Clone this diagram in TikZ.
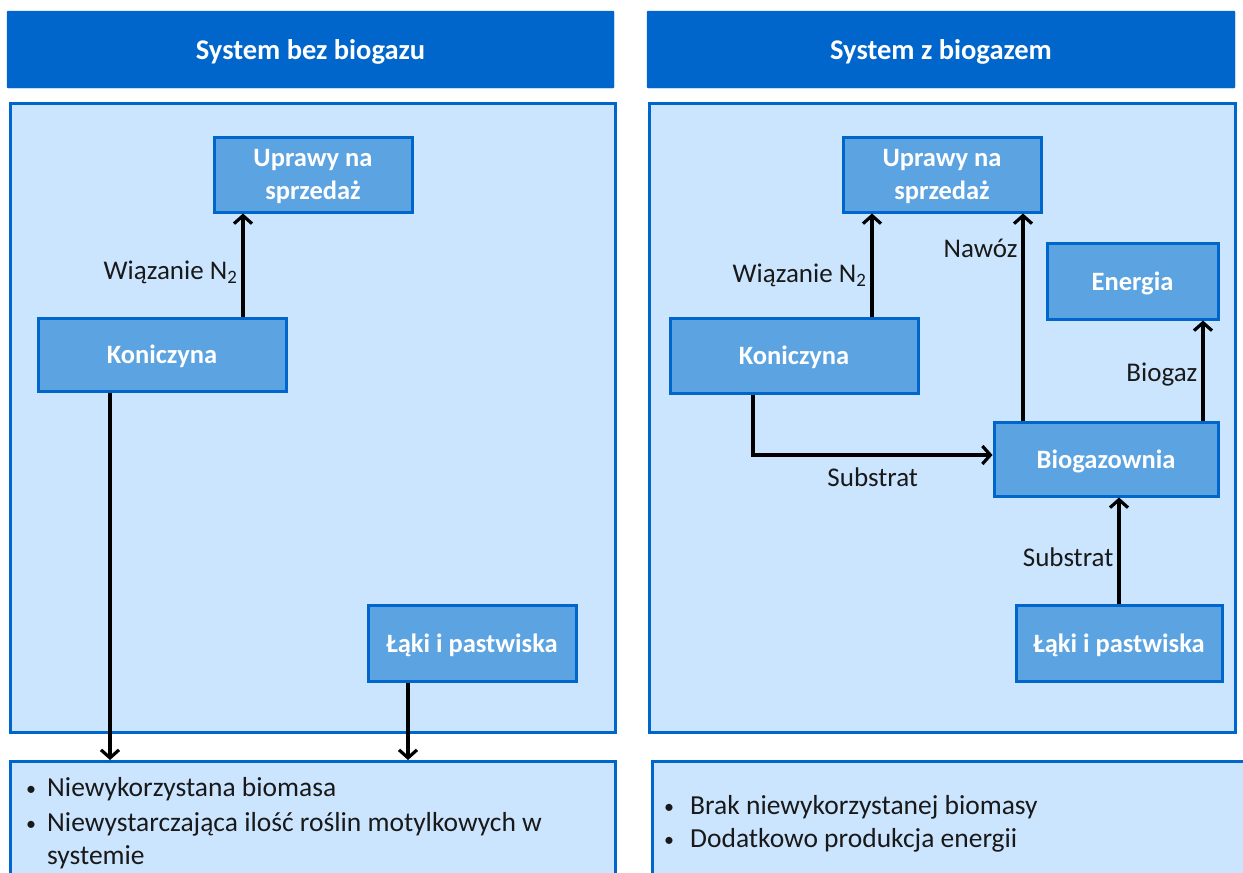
\documentclass[tikz,border=0pt]{standalone}
\usepackage{fontspec}
\setmainfont{Carlito}
\usetikzlibrary{arrows.meta,positioning}

\definecolor{hdrblue}{RGB}{0,102,204}
\definecolor{panelblue}{RGB}{204,229,255}
\definecolor{boxblue}{RGB}{92,163,225}

\newcommand{\pkt}{\raisebox{1pt}{\fontsize{20}{20}\selectfont\textbullet}}

\tikzset{
  header/.style={fill=hdrblue, draw=hdrblue, rounded corners=1pt, text=white, text depth=0pt,
                 font=\fontsize{28.5}{34}\selectfont\bfseries},
  panel/.style={fill=panelblue, draw=hdrblue, line width=3pt, inner sep=0pt},
  unit/.style={fill=boxblue, draw=hdrblue, line width=3pt, text=white, text depth=0pt,
               align=center, inner sep=0pt, font=\fontsize{26.5}{33}\selectfont\bfseries},
  flow/.style={->, line width=3.2pt},
  lbl/.style={font=\fontsize{27}{31}\selectfont, text=black!90, inner sep=4pt},
  bullet/.style={font=\fontsize{27.5}{31}\selectfont, text=black!90, inner sep=0pt, anchor=base west},
}

\begin{document}
\begin{tikzpicture}[x=1pt, y=-1pt, >={Straight Barb[length=8pt,width=18pt]}]
  \clip (0,0) rectangle (1243,873);

  % naglowki
  \node[header, minimum width=607pt, minimum height=77pt] (hdr1) at (310.5,49.5) {System bez biogazu};
  \node[header, minimum width=588pt, minimum height=77pt] (hdr2) at (941,49.5) {System z biogazem};

  % panele
  \node[panel, minimum width=605pt, minimum height=629pt, anchor=north west] (pan1) at (9,102) {};
  \node[panel, minimum width=586pt, minimum height=629pt, anchor=north west] (pan2) at (648,102) {};
  \node[panel, minimum width=605pt, minimum height=130pt, anchor=north west] (res1) at (9,760) {};
  \node[panel, minimum width=600pt, minimum height=130pt, anchor=north west] (res2) at (651,760) {};

  % system bez biogazu
  \node[unit, minimum width=198pt, minimum height=75pt] (upr1) at (313,174.5) {Uprawy na\\sprzedaż};
  \node[unit, minimum width=248pt, minimum height=73pt] (kon1) at (162,354.5) {Koniczyna};
  \node[unit, minimum width=208pt, minimum height=76pt] (lak1) at (472,643) {Łąki i pastwiska};

  \draw[flow] ([xshift=81pt]kon1.north) -- ([xshift=81pt]kon1.north |- upr1.south)
    node[lbl, pos=0.43, left] {Wiązanie N\textsubscript{2}};
  \draw[flow] ([xshift=-52pt]kon1.south) -- ([xshift=-52pt]kon1.south |- res1.north);
  \draw[flow] ([xshift=-64pt]lak1.south) -- ([xshift=-64pt]lak1.south |- res1.north);

  % system z biogazem
  \node[unit, minimum width=198pt, minimum height=75pt] (upr2) at (942,174.5) {Uprawy na\\sprzedaż};
  \node[unit, minimum width=248pt, minimum height=75pt] (kon2) at (794,355.5) {Koniczyna};
  \node[unit, minimum width=171pt, minimum height=76pt] (ene) at (1132.5,281) {Energia};
  \node[unit, minimum width=224pt, minimum height=74pt] (bio) at (1106,459) {Biogazownia};
  \node[unit, minimum width=206pt, minimum height=76pt] (lak2) at (1119,643) {Łąki i pastwiska};

  \draw[flow] ([xshift=78pt]kon2.north) -- ([xshift=78pt]kon2.north |- upr2.south)
    node[lbl, pos=0.40, left] {Wiązanie N\textsubscript{2}};
  \draw[flow] ([xshift=-83pt]bio.north) -- ([xshift=-83pt]bio.north |- upr2.south)
    node[lbl, pos=0.83, left] {Nawóz};
  \draw[flow] ([xshift=97pt]bio.north) -- ([xshift=97pt]bio.north |- ene.south)
    node[lbl, pos=0.46, left] {Biogaz};
  \draw[flow] ([xshift=-41pt]kon2.south) |- ([yshift=4pt]bio.west)
    node[lbl, pos=0.75, below=7pt] {Substrat};
  \draw[flow] (lak2.north) -- (lak2.north |- bio.south)
    node[lbl, pos=0.44, left] {Substrat};

  % wnioski
  \node[bullet] (w1) at (26,796) {\makebox[21pt][l]{\pkt}Niewykorzystana biomasa};
  \node[bullet] (w2) at (26,831) {\makebox[21pt][l]{\pkt}Niewystarczająca ilość roślin motylkowych w};
  \node[bullet] (w3) at (47,864) {systemie};
  \node[bullet] (w4) at (664,814) {\makebox[26pt][l]{\pkt}Brak niewykorzystanej  biomasy};
  \node[bullet] (w5) at (664,847) {\makebox[26pt][l]{\pkt}Dodatkowo produkcja energii};
\end{tikzpicture}
\end{document}
